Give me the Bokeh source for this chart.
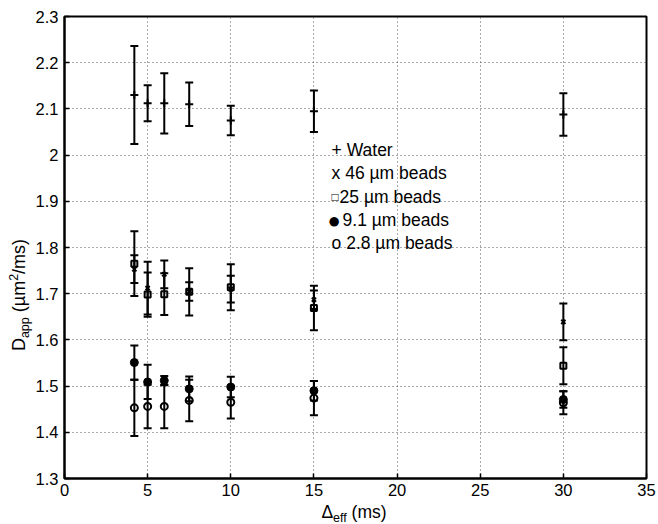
from bokeh.plotting import figure
from bokeh.models import ColumnDataSource, Whisker, TeeHead, FixedTicker, Label, Range1d, Div
from bokeh.layouts import row, column
from bokeh.embed import file_html
from bokeh.resources import INLINE

# ---------------- data ----------------
delta_eff = [4.2, 5.0, 6.0, 7.5, 10.0, 15.0, 30.0]

water = [2.130, 2.112, 2.112, 2.110, 2.075, 2.095, 2.088]
water_err = [0.106, 0.039, 0.065, 0.047, 0.032, 0.045, 0.046]

beads46 = [1.753, 1.712, 1.742, 1.705, 1.710, 1.687, 1.639]
beads46_err = [0.030, 0.057, 0.030, 0.020, 0.029, 0.020, 0.040]

beads25 = [1.765, 1.698, 1.699, 1.704, 1.714, 1.669, 1.544]
beads25_err = [0.070, 0.048, 0.045, 0.051, 0.050, 0.048, 0.040]

beads9 = [1.551, 1.509, 1.512, 1.494, 1.498, 1.490, 1.471]
beads9_err = [0.037, 0.037, 0.010, 0.027, 0.022, 0.021, 0.018]

beads28 = [1.453, 1.456, 1.456, 1.469, 1.465, 1.474, 1.464]
beads28_err = [0.061, 0.047, 0.047, 0.045, 0.035, 0.037, 0.025]

x_ticks = [0, 5, 10, 15, 20, 25, 30, 35]
x_tick_labels = ["0", "5", "10", "15", "20", "25", "30", "35"]
y_ticks = [1.3, 1.4, 1.5, 1.6, 1.7, 1.8, 1.9, 2.0, 2.1, 2.2, 2.3]
y_tick_labels = ["1.3", "1.4", "1.5", "1.6", "1.7", "1.8", "1.9", "2", "2.1", "2.2", "2.3"]

legend_lines = ["+ Water", "x 46 \u00b5m beads", "25 \u00b5m beads", "9.1 \u00b5m beads", "o 2.8 \u00b5m beads"]

# ---------------- layout ----------------
FONT = "Liberation Sans"
TOTAL_W, TOTAL_H = 658, 524
YW = 32                      # width of the y-label strip
PW = TOTAL_W - YW            # figure width
PH = 504                     # figure height
XH = TOTAL_H - PH            # height of x-label strip
FL, FR, FT, FB = 62, 646, 16, 478   # frame edges on the page
BL, BR, BT, BB = FL - YW, YW + PW - FR, FT, PH - FB
X0, X1 = 0, 35
Y0, Y1 = 1.3, 2.3


def px2x(px):  # page pixel -> data x
    return X0 + (px - FL) / (FR - FL) * (X1 - X0)


def py2y(py):  # page pixel -> data y
    return Y1 - (py - FT) / (FB - FT) * (Y1 - Y0)


p = figure(width=PW, height=PH, x_range=Range1d(X0, X1), y_range=Range1d(Y0, Y1),
           output_backend="svg", toolbar_location=None, title=None,
           min_border_left=BL, min_border_right=BR, min_border_top=BT, min_border_bottom=BB)
p.background_fill_color = "white"
p.border_fill_color = "white"
p.outline_line_color = "black"
p.outline_line_width = 2

for ax, ticks, labels in ((p.xaxis, x_ticks, x_tick_labels), (p.yaxis, y_ticks, y_tick_labels)):
    ax.ticker = FixedTicker(ticks=ticks)
    ax.major_label_overrides = {t: l for t, l in zip(ticks, labels)}
    ax.major_tick_in = 5
    ax.major_tick_out = 0
    ax.minor_tick_in = 0
    ax.minor_tick_out = 0
    ax.major_tick_line_width = 1.5
    ax.axis_line_width = 2
    ax.major_label_text_font = FONT
    ax.major_label_text_font_size = "16.5px"
    ax.major_label_text_color = "black"
p.xaxis.major_label_standoff = 5
p.yaxis.major_label_standoff = 6

for g in (p.xgrid, p.ygrid):
    g.grid_line_color = "#555555"
    g.grid_line_dash = "1 3"
    g.grid_line_width = 1

series = [
    (water, water_err, dict(marker="cross", size=8, line_width=2, line_color="black", fill_color=None)),
    (beads46, beads46_err, dict(marker="x", size=6, line_width=2, line_color="black", fill_color=None)),
    (beads25, beads25_err, dict(marker="square", size=6, line_width=2, line_color="black", fill_color=None)),
    (beads9, beads9_err, dict(marker="circle", size=8, line_width=1, line_color="black", fill_color="black")),
    (beads28, beads28_err, dict(marker="circle", size=7, line_width=2, line_color="black", fill_color=None)),
]

for vals, errs, style in series:
    src = ColumnDataSource(dict(
        x=delta_eff, y=vals,
        upper=[v + e for v, e in zip(vals, errs)],
        lower=[v - e for v, e in zip(vals, errs)],
    ))
    w = Whisker(source=src, base="x", upper="upper", lower="lower",
                line_width=2, line_color="black",
                upper_head=TeeHead(size=8, line_width=2, line_color="black"),
                lower_head=TeeHead(size=8, line_width=2, line_color="black"))
    p.add_layout(w)
    p.scatter("x", "y", source=src, **style)


def lab(text, px, py, size="17.5px"):
    p.add_layout(Label(x=px2x(px), y=py2y(py), text=text, text_font=FONT,
                       text_font_size=size, text_color="black",
                       text_align="left", text_baseline="alphabetic"))


# legend-like annotation text inside the axes
lx = 330
base = [149.5, 172.8, 196.1, 219.4, 242.7]
lab(legend_lines[0], lx, base[0])
lab(legend_lines[1], lx, base[1])
lab("\u25a1", lx, base[2], size="12px")
lab(legend_lines[2], lx + 8, base[2])
lab("\u25cf", lx - 4, base[3] + 1, size="22px")
lab(legend_lines[3], lx + 11, base[3])
lab(legend_lines[4], lx, base[4])

# ---------------- axis titles (HTML, with sub/superscripts) ----------------
def txt_style(size):
    return (f"font-family:Liberation Sans,Arial,sans-serif;font-size:{size};color:black;"
            "white-space:nowrap;line-height:20px;")


sub = '<span style="font-size:12.5px;position:relative;top:4px;">{}</span>'
sup = '<span style="font-size:12.5px;position:relative;top:-7px;">{}</span>'

x_center = (FL + FR) / 2
x_top = -2   # line box top relative to the x-label strip
xlabel_html = (
    f'<div style="position:relative;width:{TOTAL_W}px;height:{XH}px;">'
    f'<div style="position:absolute;left:0px;top:{x_top}px;width:{2 * x_center:.0f}px;'
    f'height:20px;text-align:center;{txt_style("17.5px")}">'
    f'\u0394{sub.format("eff")} (ms)</div></div>'
)
xdiv = Div(text=xlabel_html, width=TOTAL_W, height=XH, margin=0)

y_center_page = 295
y_cx = 19
ylabel_html = (
    f'<div style="position:relative;width:{YW}px;height:{PH}px;">'
    f'<div style="position:absolute;left:{y_cx - 110}px;top:{y_center_page - 10}px;width:220px;height:20px;'
    f'text-align:center;transform:rotate(-90deg);transform-origin:50% 50%;{txt_style("18px")}">'
    f'D{sub.format("app")} (\u00b5m{sup.format("2")}/ms)</div></div>'
)
ydiv = Div(text=ylabel_html, width=YW, height=PH, margin=0)

layout = column(row(ydiv, p, spacing=0), xdiv, spacing=0)

open("out.html", "w").write(file_html(layout, INLINE))
